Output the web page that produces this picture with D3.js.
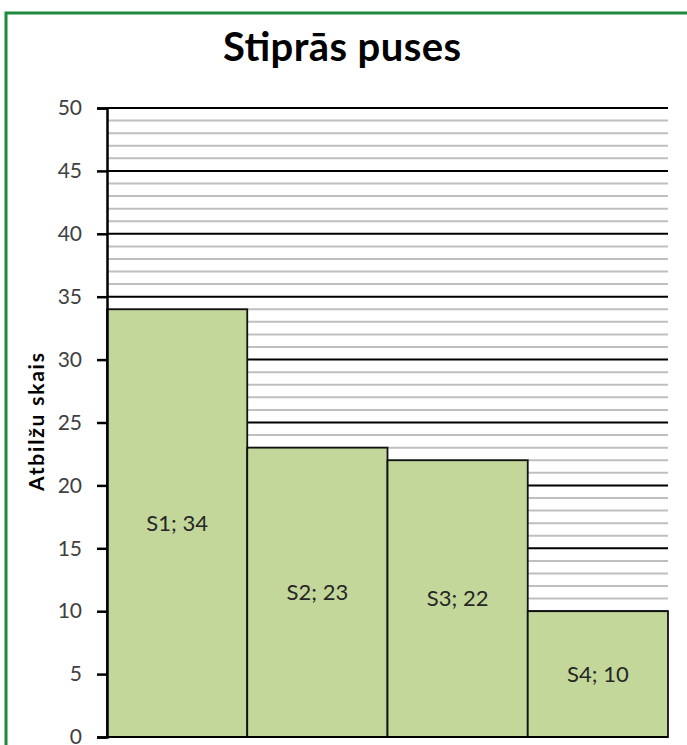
<!DOCTYPE html>
<html><head><meta charset="utf-8">
<script src="https://cdn.jsdelivr.net/npm/d3@7"></script>
<style>html,body{margin:0;padding:0;background:#fff;overflow:hidden}</style>
</head><body>
<svg id="c" width="687" height="745"></svg>
<script>
const categories = ["S1", "S2", "S3", "S4"];
const values = [34, 23, 22, 10];
const yTicks = [0, 5, 10, 15, 20, 25, 30, 35, 40, 45, 50];
const title = "Stiprās puses";
const yLabel = "Atbilžu skais";

const svg = d3.select("#c");
const m = {left: 107, right: 668, top: 108, bottom: 737};

// outer green frame
svg.append("rect").attr("x", 6).attr("y", 13).attr("width", 700).attr("height", 760)
  .attr("fill", "none").attr("stroke", "#1f8a3b").attr("stroke-width", 3);

const x = d3.scaleBand().domain(categories).range([m.left, m.right]).padding(0);
const y = d3.scaleLinear().domain([0, 50]).range([m.bottom, m.top]);

// minor gridlines
const minor = d3.range(0, 51).filter(v => v % 5 !== 0);
svg.append("g").selectAll("line").data(minor).join("line")
  .attr("x1", m.left).attr("x2", m.right)
  .attr("y1", d => y(d)).attr("y2", d => y(d))
  .attr("stroke", "#bfbfbf").attr("stroke-width", 2);

// major gridlines
svg.append("g").selectAll("line").data(yTicks.filter(v => v > 0)).join("line")
  .attr("x1", m.left).attr("x2", m.right)
  .attr("y1", d => y(d)).attr("y2", d => y(d))
  .attr("stroke", "#000").attr("stroke-width", 2);

// bars
svg.append("g").selectAll("rect").data(values).join("rect")
  .attr("x", (d, i) => x(categories[i]))
  .attr("y", d => y(d))
  .attr("width", x.bandwidth())
  .attr("height", d => y(0) - y(d))
  .attr("fill", "#c4d79b").attr("stroke", "#111").attr("stroke-width", 1.8);

// bar labels
svg.append("g").selectAll("text").data(values).join("text")
  .attr("x", (d, i) => x(categories[i]) + x.bandwidth() / 2)
  .attr("y", d => y(d / 2))
  .attr("dy", "0.35em")
  .attr("text-anchor", "middle")
  .attr("font-family", "Lato, 'Open Sans', sans-serif")
  .attr("font-size", 22).attr("fill", "#262626")
  .text((d, i) => categories[i] + "; " + d);

// y axis
const yAxis = d3.axisLeft(y).tickValues(yTicks).tickSize(10).tickPadding(15);
const ga = svg.append("g").attr("transform", `translate(${m.left},0)`).call(yAxis);
ga.select(".domain").attr("stroke", "#000").attr("stroke-width", 2.5);
ga.selectAll(".tick line").attr("stroke", "#000").attr("stroke-width", 2.5);
ga.selectAll(".tick text").attr("font-family", "Lato, 'Open Sans', sans-serif")
  .attr("font-size", 21).attr("fill", "#404040");

// x axis baseline
svg.append("line").attr("x1", m.left).attr("x2", m.right)
  .attr("y1", y(0)).attr("y2", y(0)).attr("stroke", "#000").attr("stroke-width", 2);

// title
svg.append("text").attr("x", 342).attr("y", 61).attr("text-anchor", "middle")
  .attr("font-family", "Lato, 'Open Sans', sans-serif").attr("font-weight", "bold")
  .attr("font-size", 40).attr("textLength", 238).attr("lengthAdjust", "spacing")
  .attr("fill", "#000").text(title);

// y label
svg.append("text").attr("transform", "translate(44,422) rotate(-90)")
  .attr("text-anchor", "middle")
  .attr("font-family", "Lato, 'Open Sans', sans-serif").attr("font-weight", "bold")
  .attr("font-size", 21).attr("textLength", 138).attr("lengthAdjust", "spacing")
  .attr("fill", "#000").text(yLabel);
</script>
</body></html>
